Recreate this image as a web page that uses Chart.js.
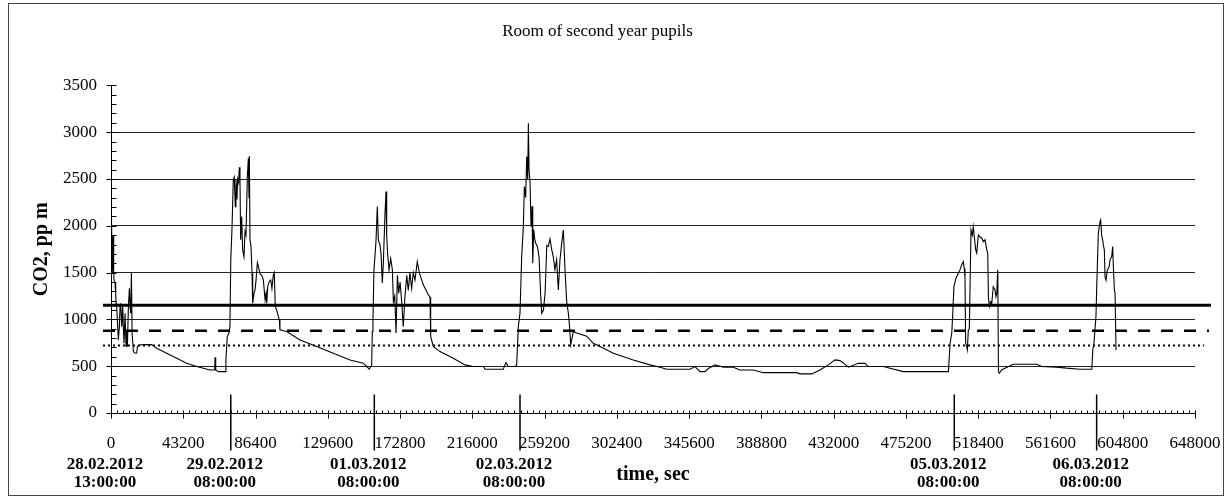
<!DOCTYPE html>
<html><head><meta charset="utf-8">
<script src="https://cdn.jsdelivr.net/npm/chart.js@4/dist/chart.umd.min.js"></script>
<style>html,body{margin:0;padding:0;background:#fff;}#wrap{position:relative;width:1231px;height:499px;}</style>
</head><body><div id="wrap"><canvas id="c" width="1231" height="499"></canvas></div>
<script>
const chartTitle = 'Room of second year pupils';
const xTitle = 'time, sec';
const yTitle = 'CO2, pp m';
const timeSec = [0,400,800,1200,1600,1800,2400,2800,3000,3400,3800,4400,5000,5400,5800,6400,7000,7400,7800,8400,9000,9400,9800,10400,11000,11400,11800,12200,12600,13400,14400,15400,15800,17000,19400,24300,27300,33300,39300,45200,51200,55200,59200,62000,62200,62600,64200,68200,68700,69500,70500,71100,71600,72300,73100,73700,74300,74700,75300,75700,76300,76700,77100,77500,78100,78700,79500,80100,80700,81500,82100,82500,82700,83100,83700,84300,84700,85500,86100,86700,87500,88300,89100,90100,91100,92100,92700,93100,93700,94500,95500,96200,97000,97600,98200,99000,100600,101000,105000,113000,123000,132900,142900,150800,152900,154400,155800,156200,156600,157200,158400,159200,159800,160800,161400,162200,162800,163800,164400,164800,165400,166200,167200,168200,168800,169600,170400,171200,172000,172800,173800,174700,175700,176800,177700,178700,179700,180700,181700,182700,183100,184300,186700,189700,190700,191100,192700,196700,204600,211600,216600,222600,223600,234500,236100,237500,241500,242500,243500,244500,245500,246500,247100,247900,248500,249100,249500,249900,250500,251100,251700,252100,252700,253300,253900,254900,255900,256900,257500,258500,259500,260500,261400,262400,263400,264400,265400,266400,267400,268400,269400,270400,271400,272400,273400,274000,274800,275600,276400,278400,284400,288300,292300,300300,312200,322200,328200,332200,346100,349100,352100,355100,357100,361100,366100,372000,376000,384000,390000,409900,411900,418900,423800,428800,432800,435800,438800,440800,446700,450700,452700,461700,465700,473600,483600,500600,501600,502600,503200,503900,505100,506500,507500,508500,509500,510100,510500,510900,511500,511900,512500,513100,513500,514100,514900,515500,516100,516900,517500,518500,519500,520500,521500,522500,523500,524100,524500,525100,525900,526500,527400,528400,529000,529500,530100,530500,531000,532400,534400,539400,553400,556400,565300,571300,579300,586300,586900,587600,588200,588800,589200,590200,591200,591600,592200,592800,593200,593800,594200,594800,595600,596600,597200,598200,598800,599200,599800,600200,600800];
const co2 = [2010,1925,1495,1900,1500,1422,1387,1280,1173,1137,995,781,923,1137,1173,923,1137,900,745,1066,710,880,710,1137,1333,1137,1066,1500,852,656,639,640,710,727,730,730,692,639,585,532,496,479,460,460,596,460,442,442,567,816,852,923,1636,1956,2490,2520,2205,2500,2280,2500,2460,2626,2500,1850,2100,1743,1670,1938,1900,2520,2722,2300,2747,1850,1780,1494,1173,1280,1315,1420,1607,1550,1485,1470,1420,1208,1280,1173,1350,1400,1420,1330,1470,1500,1137,1101,995,888,870,781,710,639,567,532,496,468,514,870,995,1529,1831,2205,1850,1795,1709,1389,1600,2135,2366,1900,1690,1530,1650,1530,1190,1250,855,1470,1280,1400,1180,923,1240,1470,1310,1500,1330,1500,1420,1560,1618,1500,1369,1262,1240,816,709,656,585,514,496,496,468,468,539,496,496,514,923,1069,1670,1991,2419,2300,2739,2500,3096,2600,2458,1991,2210,1600,1960,1860,1814,1780,1660,1244,1066,1100,1280,1790,1780,1860,1750,1668,1530,1640,1315,1640,1810,1956,1530,1190,1066,950,727,800,870,855,820,745,710,639,567,514,489,468,468,496,442,442,475,514,489,489,460,460,431,431,418,418,460,514,567,560,520,489,532,530,496,496,479,442,442,442,745,852,1066,1350,1440,1493,1529,1582,1618,1540,1450,745,709,674,888,900,1315,1956,1900,1991,1880,1743,1710,1903,1880,1870,1830,1850,1743,1710,1244,1137,1190,1170,1350,1320,1244,1280,1529,442,425,460,479,521,521,496,490,479,468,468,674,745,888,1030,1315,1920,2045,2063,1900,1850,1796,1743,1457,1420,1529,1560,1636,1672,1778,1560,1315,1280,674];
const yTickValues = [0,500,1000,1500,2000,2500,3000,3500];
const xTickValues = [0,43200,86400,129600,172800,216000,259200,302400,345600,388800,432000,475200,518400,561600,604800,648000];
const refLevels = [1150, 880, 720];          // solid, dashed, dotted
const dayStartSec = [71600,157400,244500,504100,589200];
const dateLabelSec = [0,71600,157400,244500,504100,589200];
const dateLabelDay = ['28.02.2012','29.02.2012','01.03.2012','02.03.2012','05.03.2012','06.03.2012'];
const dateLabelTime = ['13:00:00','08:00:00','08:00:00','08:00:00','08:00:00','08:00:00'];

const SERIF = "'Liberation Serif', 'Times New Roman', serif";
const points = timeSec.map((t,i)=>({x:t, y:co2[i]}));

const decor = {
  id: 'decor',
  beforeDraw(chart){
    const c = chart.ctx;
    c.save(); c.fillStyle='#fff'; c.fillRect(0,0,chart.width,chart.height);
    c.strokeStyle='#444'; c.lineWidth=1; c.strokeRect(8.5,3.5,1215,492); c.restore();
  },
  afterDraw(chart){
    const c = chart.ctx, xs = chart.scales.x, ys = chart.scales.y, a = chart.chartArea;
    const x0 = Math.round(a.left)+0.5, y0 = Math.round(a.bottom)+0.5;
    c.save();
    c.strokeStyle='#000'; c.lineWidth=1;
    c.beginPath();
    for (let v=0; v<=3500; v+=100){
      const y = Math.round(ys.getPixelForValue(v))+0.5;
      if (v%500===0){ c.moveTo(x0-5,y); c.lineTo(x0+5,y); }
      else { c.moveTo(x0,y); c.lineTo(x0+5,y); }
    }
    for (let v=0; v<=648000; v+=3600){
      const x = Math.round(xs.getPixelForValue(v))+0.5;
      if (v%43200===0){ c.moveTo(x,y0-3); c.lineTo(x,y0+5); }
      else { c.moveTo(x,y0-3); c.lineTo(x,y0); }
    }
    c.stroke();
    // reference levels
    const styles = [{w:3,d:[]},{w:2.5,d:[12,11]},{w:2,d:[2,3]}];
    const ends = [a.right+16, a.right+14, a.right+9];
    refLevels.forEach((v,i)=>{
      const y = ys.getPixelForValue(v);
      c.beginPath(); c.lineWidth=styles[i].w; c.setLineDash(styles[i].d);
      c.moveTo(a.left-8,y); c.lineTo(ends[i],y); c.stroke();
    });
    c.setLineDash([]);
    // day start markers
    c.lineWidth=1.5;
    dayStartSec.forEach(s=>{
      const x = xs.getPixelForValue(s);
      c.beginPath(); c.moveTo(x,y0-19); c.lineTo(x,y0+37); c.stroke();
    });
    // date labels
    c.fillStyle='#000'; c.font='bold 17px '+SERIF; c.textAlign='center'; c.textBaseline='middle';
    dateLabelSec.forEach((s,i)=>{
      const x = xs.getPixelForValue(s)-6;
      c.fillText(dateLabelDay[i], x, y0+51);
      c.fillText(dateLabelTime[i], x, y0+69);
    });
    c.restore();
  }
};

new Chart(document.getElementById('c'), {
  type:'line',
  data:{datasets:[{data:points, borderColor:'#000', borderWidth:1.1, pointRadius:0, tension:0, fill:false}]},
  options:{
    responsive:false, animation:false, events:[],
    layout:{padding:{left:0,right:36,top:0,bottom:0}},
    plugins:{
      legend:{display:false}, tooltip:{enabled:false},
      title:{display:true, text:chartTitle, color:'#000', font:{family:SERIF,size:17,weight:'normal'}, padding:{top:21,bottom:44}}
    },
    scales:{
      x:{type:'linear', min:0, max:648000,
        afterBuildTicks:(s)=>{ s.ticks = xTickValues.map(v=>({value:v})); },
        afterFit:(s)=>{ s.height = 86; s.paddingLeft = 0; s.paddingRight = 0; },
        grid:{display:false, drawTicks:false},
        border:{display:true, color:'#000', width:1},
        ticks:{color:'#000', font:{family:SERIF,size:17}, padding:20, maxRotation:0, autoSkip:false, callback:(v)=>String(v)},
        title:{display:true, text:xTitle, color:'#000', font:{family:SERIF,size:20,weight:'bold'}, padding:{top:0,bottom:12}}
      },
      y:{min:0, max:3500,
        afterBuildTicks:(s)=>{ s.ticks = yTickValues.map(v=>({value:v})); },
        afterFit:(s)=>{ s.width = 111; },
        grid:{drawTicks:false, lineWidth:1, color:(ctx)=> (ctx.tick && (ctx.tick.value===0||ctx.tick.value===3500)) ? 'rgba(0,0,0,0)' : '#222'},
        border:{display:true, color:'#000', width:1},
        ticks:{color:'#000', font:{family:SERIF,size:17}, padding:14, callback:(v)=>String(v)},
        title:{display:true, text:yTitle, color:'#000', font:{family:SERIF,size:20,weight:'bold'}, padding:{top:30,bottom:0}}
      }
    }
  },
  plugins:[decor]
});
</script></body></html>
